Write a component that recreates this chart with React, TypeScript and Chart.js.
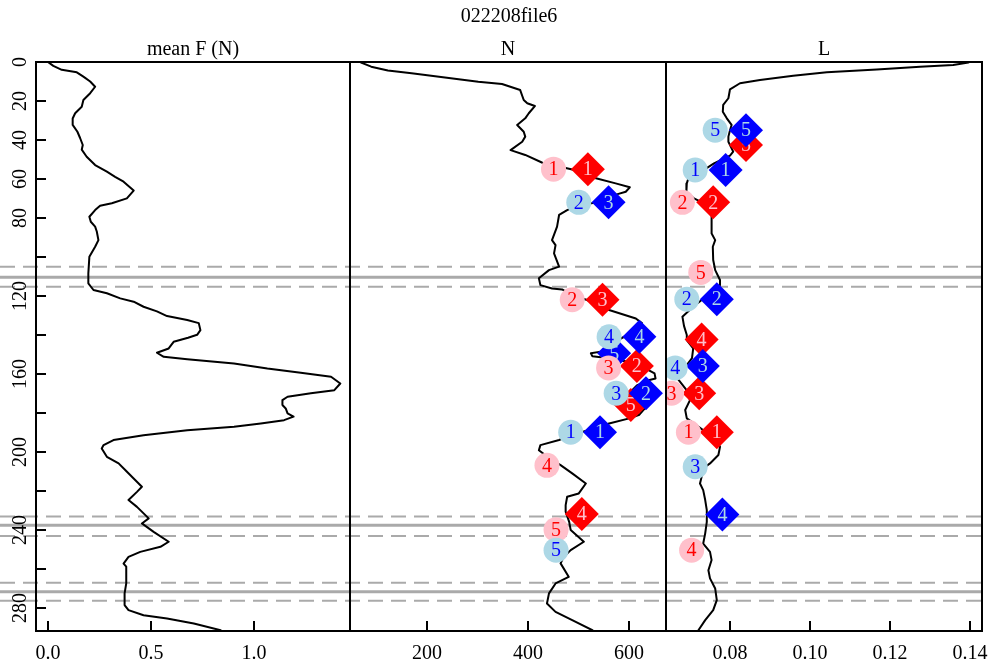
import React, { useEffect, useRef } from 'react';
import { Chart, registerables } from 'chart.js';

Chart.register(...registerables);

const FONT_FAMILY = '"Liberation Serif", "Times New Roman", Times, serif';

// ---------- text ----------
const chartTitle = '022208file6';
const panelTitles = ['mean F (N)', 'N', 'L'];

// ---------- ticks ----------
const depthTicks = [0, 20, 40, 60, 80, 100, 120, 140, 160, 180, 200, 220, 240, 260, 280];
const depthTickLabels = ['0', '20', '40', '60', '80', '', '120', '', '160', '', '200', '', '240', '', '280'];
const meanFTicks = [0, 0.5, 1.0];
const meanFTickLabels = ['0.0', '0.5', '1.0'];
const nTicks = [200, 400, 600];
const nTickLabels = ['200', '400', '600'];
const lTicks = [0.08, 0.1, 0.12, 0.14];
const lTickLabels = ['0.08', '0.10', '0.12', '0.14'];

// ---------- reference depth lines ----------
const solidDepthLines = [110.4, 237.7, 271.9];
const dashedDepthLines = [105.1, 115.3, 233.2, 243.2, 267.3, 276.5];

// ---------- profiles: [depth, value] ----------
const meanFProfile: [number, number][] = [
  [0, 0.0], [2, 0.026], [4, 0.067], [5.3, 0.14], [7.5, 0.172], [10, 0.205], [12.7, 0.229], [16, 0.205],
  [19.5, 0.172], [23, 0.164], [26.3, 0.132], [29, 0.12], [32.3, 0.12], [35.8, 0.143], [39, 0.156],
  [42.6, 0.169], [45, 0.164], [48.6, 0.188], [52.9, 0.229], [56.3, 0.286], [58.9, 0.326], [61.4, 0.367],
  [66, 0.416], [70, 0.383], [72.5, 0.31], [73.8, 0.253], [76, 0.229], [79.4, 0.201], [82, 0.208],
  [84.5, 0.229], [87, 0.237], [91.4, 0.245], [94.8, 0.229], [100, 0.201], [108.5, 0.196], [113.6, 0.196],
  [117, 0.221], [118.7, 0.286], [121.3, 0.351], [123, 0.416], [125.6, 0.464], [128, 0.529], [130.4, 0.578],
  [132.4, 0.676], [134, 0.732], [137.6, 0.74], [140, 0.724], [141.5, 0.68], [143.6, 0.61], [147, 0.586],
  [149.2, 0.529], [151.3, 0.562], [152.6, 0.676], [154.7, 0.903], [157.3, 1.065], [159.5, 1.227],
  [161.5, 1.374], [165, 1.419], [168.4, 1.39], [170, 1.276], [171.8, 1.163], [173.5, 1.138], [176, 1.138],
  [177.8, 1.154], [180.3, 1.163], [182, 1.192], [183.8, 1.146], [185.5, 1.033], [187.2, 0.903], [189, 0.676],
  [191.5, 0.464], [194, 0.318], [196.6, 0.27], [198.3, 0.261], [202.6, 0.286], [206, 0.343], [209.4, 0.375],
  [213.7, 0.416], [218, 0.456], [220.6, 0.432], [224.8, 0.391], [228.3, 0.432], [234.2, 0.489], [236.8, 0.456],
  [241.1, 0.513], [246.2, 0.586], [248.8, 0.546], [251.4, 0.448], [254, 0.391], [257.4, 0.367], [259, 0.38],
  [267.6, 0.38], [272.7, 0.372], [278.7, 0.372], [281.3, 0.391], [283.9, 0.464], [285.6, 0.578],
  [288.2, 0.708], [291.6, 0.838],
];

const nProfile: [number, number][] = [
  [0.3, 69], [2.4, 89], [4.4, 122], [5.8, 169], [7.9, 235], [10.1, 301], [11.3, 348], [14.4, 384],
  [19.5, 391], [21.2, 398], [22.6, 413], [26.3, 401], [28.9, 394], [32.3, 378], [35.8, 391], [38.3, 394],
  [40.9, 388], [45.2, 365], [47.7, 394], [51.7, 428], [55, 485], [57.5, 520], [59.7, 534], [62.3, 573],
  [64.3, 601], [66.6, 593], [67.8, 577], [70, 560], [72, 535], [74, 495], [76, 477], [78.5, 461],
  [84.5, 457], [91.4, 447], [94, 454], [98.2, 451], [105, 461], [106.8, 441], [111, 421], [114.5, 424],
  [116.2, 447], [116.7, 467], [120, 490], [122, 515], [125, 545], [127.3, 560], [131.6, 613], [134, 625],
  [138, 615], [141, 590], [145, 560], [148.5, 547], [149.5, 524], [151, 527], [152, 560], [154, 600],
  [157, 630], [159.8, 650], [162.4, 652], [163.2, 640], [166, 615], [170, 600], [174, 610], [178, 630],
  [181, 620], [182.9, 600], [185.5, 560], [188, 530], [190, 505], [192, 480], [194, 461], [196.6, 424],
  [199.2, 421], [203, 440], [206.9, 464], [211.1, 487], [216.3, 514], [221.4, 500], [223.1, 477],
  [227.4, 474], [230.8, 474], [236, 481], [240.2, 484], [246.2, 510], [250.5, 484], [254, 470],
  [257.3, 464], [264.2, 480], [267.6, 454], [272.7, 441], [277.9, 437], [282.2, 454], [286.4, 487],
  [291.6, 527],
];

const lProfile: [number, number][] = [
  [0.3, 0.1396], [1.5, 0.1358], [2.4, 0.1275], [3.8, 0.1167], [5.3, 0.1042], [7, 0.0958], [9.2, 0.0875],
  [10.9, 0.0825], [14, 0.08], [18.6, 0.0796], [22, 0.0783], [25.5, 0.0782], [28.9, 0.0792], [32.3, 0.0804],
  [35, 0.08], [38.3, 0.0796], [40.9, 0.0796], [46, 0.0808], [48, 0.08], [52, 0.076], [56, 0.073],
  [59.7, 0.0696], [62.3, 0.0692], [64, 0.0692], [66.6, 0.069], [70, 0.071], [72, 0.073], [76, 0.0754],
  [80.2, 0.0754], [88, 0.0754], [91.4, 0.0763], [94.8, 0.0757], [101.6, 0.0758], [106.8, 0.0763],
  [111.9, 0.0775], [114.5, 0.0775], [119.6, 0.0763], [122, 0.073], [125.6, 0.0708], [130.7, 0.0681],
  [135.4, 0.0685], [140.1, 0.0692], [142.7, 0.0692], [147, 0.0708], [152, 0.0705], [156, 0.069],
  [160, 0.0675], [163, 0.0671], [168, 0.069], [173.5, 0.07], [178.6, 0.0688], [182.9, 0.0692], [187, 0.072],
  [190, 0.074], [194, 0.0765], [197.5, 0.0775], [201.7, 0.0771], [206, 0.075], [209, 0.073],
  [212.9, 0.0729], [216.3, 0.0725], [219.7, 0.0733], [224.8, 0.0738], [230, 0.0742], [236, 0.0742],
  [241.9, 0.0738], [247.1, 0.0733], [251.4, 0.075], [255.6, 0.0754], [260.8, 0.0746], [265, 0.075],
  [270.2, 0.0763], [276.2, 0.0767], [281.3, 0.0758], [286.4, 0.0738], [291.6, 0.0721],
];

// ---------- markers ----------
const markerLabels = ['1', '2', '3', '4', '5'];

// N panel
const nPinkDepth = [55, 122, 157, 207, 240];
const nPinkValue = [450, 487, 559, 437, 455];
const nLightBlueDepth = [190, 72, 170, 141, 250.5];
const nLightBlueValue = [484, 500, 574, 560, 455];
const nRedDepth = [55, 156, 122, 232, 176];
const nRedValue = [518, 615, 547, 506, 603];
const nBlueDepth = [190, 170, 72, 141, 149.5];
const nBlueValue = [542, 633, 559, 620, 570];

// L panel
const lPinkDepth = [190, 72, 170, 250.5, 108];
const lPinkValue = [0.0696, 0.0681, 0.0654, 0.0704, 0.0727];
const lLightBlueDepth = [55.4, 121.7, 207.7, 157, 35];
const lLightBlueValue = [0.0713, 0.0692, 0.0713, 0.0663, 0.0763];
const lRedDepth = [190, 72, 170, 142.4, 42.6];
const lRedValue = [0.0767, 0.0758, 0.0723, 0.0729, 0.084];
const lBlueDepth = [55.4, 121.7, 156, 232.2, 35];
const lBlueValue = [0.0789, 0.0767, 0.0732, 0.0781, 0.084];

const PINK = '#FFC0CB';
const LIGHTBLUE = '#ADD8E6';
const RED = '#FF0000';
const BLUE = '#0000FF';

function profileDataset(points: [number, number][], xAxisID: string) {
  return {
    data: points.map(([d, v]) => ({ x: v, y: d })),
    xAxisID,
    yAxisID: 'y',
    showLine: true,
    borderColor: '#000000',
    backgroundColor: '#000000',
    borderWidth: 2,
    borderJoinStyle: 'round',
    borderCapStyle: 'round',
    pointRadius: 0,
    tension: 0,
    fill: false,
    order: 10,
  };
}

function markerDataset(
  depths: number[],
  values: number[],
  xAxisID: string,
  style: string,
  fill: string,
  textColor: string,
  order: number,
) {
  return {
    data: values.map((v, i) => ({ x: v, y: depths[i] })),
    xAxisID,
    yAxisID: 'y',
    showLine: false,
    pointStyle: style,
    pointRadius: style === 'circle' ? 12.5 : 17,
    pointBackgroundColor: fill,
    pointBorderColor: fill,
    pointBorderWidth: 0,
    backgroundColor: fill,
    borderColor: fill,
    borderWidth: 0,
    order,
    pointLabels: markerLabels,
    labelColor: textColor,
  };
}

function xScale(min: number, max: number, ticks: number[], weight: number) {
  return {
    type: 'linear',
    position: 'bottom',
    stack: 'panels',
    stackWeight: weight,
    min,
    max,
    offset: false,
    grid: { display: false, drawTicks: false },
    border: { display: false },
    afterBuildTicks: (s: any) => {
      s.ticks = ticks.map((v) => ({ value: v }));
    },
    afterFit: (s: any) => {
      s.height = 37;
      s.paddingLeft = 0;
      s.paddingRight = 0;
    },
    ticks: { display: false, autoSkip: false },
  };
}

const panelAxes = ['xF', 'xN', 'xL'];
const panelTickSets = [meanFTicks, nTicks, lTicks];
const panelTickLabelSets = [meanFTickLabels, nTickLabels, lTickLabels];

const panelsPlugin = {
  id: 'panelsPlugin',
  beforeDatasetsDraw(chart: any) {
    const { ctx, chartArea } = chart;
    const y = chart.scales.y;
    ctx.save();
    ctx.strokeStyle = '#AAAAAA';
    ctx.lineWidth = 3;
    for (const d of solidDepthLines) {
      const py = y.getPixelForValue(d);
      ctx.beginPath();
      ctx.moveTo(0, py);
      ctx.lineTo(chartArea.right, py);
      ctx.stroke();
    }
    ctx.lineWidth = 2;
    ctx.setLineDash([15, 8]);
    for (const d of dashedDepthLines) {
      const py = y.getPixelForValue(d);
      ctx.beginPath();
      ctx.moveTo(0, py);
      ctx.lineTo(chartArea.right, py);
      ctx.stroke();
    }
    ctx.restore();
  },
  afterDatasetDraw(chart: any, args: any) {
    const ds = chart.data.datasets[args.index];
    if (!ds.pointLabels) return;
    const { ctx, chartArea } = chart;
    const meta = args.meta;
    const xs = meta.xScale;
    ctx.save();
    ctx.beginPath();
    ctx.rect(xs.left, chartArea.top, xs.right - xs.left, chartArea.bottom - chartArea.top);
    ctx.clip();
    ctx.font = `20px ${FONT_FAMILY}`;
    ctx.textAlign = 'center';
    ctx.textBaseline = 'middle';
    ctx.fillStyle = ds.labelColor;
    meta.data.forEach((el: any, i: number) => {
      ctx.fillText(ds.pointLabels[i], el.x, el.y + 1);
    });
    ctx.restore();
  },
  afterDraw(chart: any) {
    const { ctx, chartArea } = chart;
    const y = chart.scales.y;
    ctx.save();
    ctx.strokeStyle = '#000000';
    ctx.fillStyle = '#000000';
    ctx.lineWidth = 2;
    ctx.font = `20px ${FONT_FAMILY}`;
    // panel boxes, x tick marks and x tick labels
    panelAxes.forEach((id, k) => {
      const s = chart.scales[id];
      ctx.strokeRect(s.left, chartArea.top, s.right - s.left, chartArea.bottom - chartArea.top);
      panelTickSets[k].forEach((v, i) => {
        const px = Math.round(s.getPixelForValue(v));
        ctx.beginPath();
        ctx.moveTo(px, chartArea.bottom);
        ctx.lineTo(px, chartArea.bottom - 10);
        ctx.stroke();
        ctx.textAlign = 'center';
        ctx.textBaseline = 'middle';
        ctx.fillText(panelTickLabelSets[k][i], px, chartArea.bottom + 23);
      });
    });
    // y tick marks and rotated labels
    depthTicks.forEach((d, i) => {
      const py = Math.round(y.getPixelForValue(d));
      ctx.beginPath();
      ctx.moveTo(chartArea.left, py);
      ctx.lineTo(chartArea.left + 10, py);
      ctx.stroke();
      const lab = depthTickLabels[i];
      if (lab) {
        ctx.save();
        ctx.translate(chartArea.left - 15, py);
        ctx.rotate(-Math.PI / 2);
        ctx.textAlign = 'center';
        ctx.textBaseline = 'middle';
        ctx.fillText(lab, 0, 0);
        ctx.restore();
      }
    });
    // titles
    ctx.textAlign = 'center';
    ctx.textBaseline = 'alphabetic';
    ctx.fillText(chartTitle, (chartArea.left + chartArea.right) / 2, 22);
    panelAxes.forEach((id, k) => {
      const s = chart.scales[id];
      ctx.fillText(panelTitles[k], (s.left + s.right) / 2, 55);
    });
    ctx.restore();
  },
};

export default function App() {
  const canvasRef = useRef<HTMLCanvasElement | null>(null);

  useEffect(() => {
    const canvas = canvasRef.current;
    if (!canvas) return;
    const chart = new Chart(canvas, {
      type: 'scatter',
      data: {
        datasets: [
          profileDataset(meanFProfile, 'xF'),
          profileDataset(nProfile, 'xN'),
          profileDataset(lProfile, 'xL'),
          markerDataset(nRedDepth, nRedValue, 'xN', 'rectRot', RED, PINK, 4),
          markerDataset(lRedDepth, lRedValue, 'xL', 'rectRot', RED, PINK, 4),
          markerDataset(nBlueDepth, nBlueValue, 'xN', 'rectRot', BLUE, LIGHTBLUE, 3),
          markerDataset(lBlueDepth, lBlueValue, 'xL', 'rectRot', BLUE, LIGHTBLUE, 3),
          markerDataset(nPinkDepth, nPinkValue, 'xN', 'circle', PINK, RED, 2),
          markerDataset(lPinkDepth, lPinkValue, 'xL', 'circle', PINK, RED, 2),
          markerDataset(nLightBlueDepth, nLightBlueValue, 'xN', 'circle', LIGHTBLUE, BLUE, 1),
          markerDataset(lLightBlueDepth, lLightBlueValue, 'xL', 'circle', LIGHTBLUE, BLUE, 1),
        ] as any,
      },
      options: {
        animation: false,
        responsive: false,
        events: [],
        layout: { autoPadding: false, padding: { left: 36, right: 13, top: 62, bottom: 0 } },
        plugins: { legend: { display: false }, tooltip: { enabled: false }, title: { display: false } },
        scales: {
          xF: xScale(-0.058, 1.466, meanFTicks, 314),
          xN: xScale(47, 672.7, nTicks, 316),
          xL: xScale(0.064, 0.143, lTicks, 316),
          y: { type: 'linear', display: false, reverse: true, min: 0, max: 292 },
        } as any,
      },
      plugins: [panelsPlugin as any],
    });
    return () => chart.destroy();
  }, []);

  return (
    <div style={{ position: 'absolute', left: 0, top: 0, width: 995, height: 668, background: '#ffffff' }}>
      <canvas ref={canvasRef} width={995} height={668} style={{ display: 'block' }} />
    </div>
  );
}
